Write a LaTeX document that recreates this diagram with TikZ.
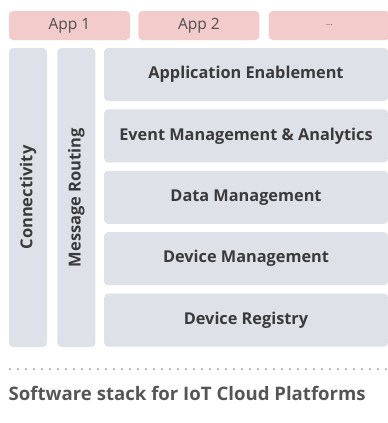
\documentclass[tikz,border=0pt]{standalone}
\usepackage{fontspec}
\setmainfont{Open Sans}
\usepackage{xcolor}
\usetikzlibrary{positioning}
\definecolor{apppink}{HTML}{F3CBCB}
\definecolor{layergray}{HTML}{DFE1E8}
\definecolor{labeltext}{HTML}{3A3A3C}
\definecolor{titletext}{HTML}{555555}
\tikzset{%
	app/.style      = {fill=apppink, rounded corners=4pt, minimum width=121pt, minimum height=29pt, inner sep=0pt, text=labeltext!90, font=\fontsize{15.5}{18}\selectfont},
	layer/.style    = {fill=layergray, rounded corners=4pt, minimum width=284pt, minimum height=53pt, inner sep=0pt, text=labeltext, font=\bfseries\fontsize{16.3}{19}\selectfont},
	column/.style   = {fill=layergray, rounded corners=4pt, minimum width=38pt, minimum height=299pt, inner sep=0pt},
	vlabel/.style   = {rotate=90, inner sep=0pt, text=labeltext, font=\bfseries\fontsize{16.5}{19}\selectfont},
	dotline/.style  = {line width=2pt, line cap=round, dash pattern=on 0pt off 8pt, draw=gray!80},
}

\begin{document}
\begin{tikzpicture}[x=1pt,y=-1pt]
	\useasboundingbox (0,0) rectangle (388,423);
	% applications on top
	\node [app] (app1) at (69.5,25.5) {App 1};
	\node [app] (app2) [right=8pt of app1] {App 2};
	\node [app] (app3) [right=9pt of app2] {\fontsize{8}{9}\selectfont ...};
	% vertical columns
	\node [column] (conn) at (28,197.5) {};
	\node [vlabel] (connlabel) at (conn.center) {Connectivity};
	\node [column] (route) [right=10pt of conn] {};
	\node [vlabel] (routelabel) at (route.center) {Message Routing};
	% layers
	\node [layer] (enable) at (246,74.5) {Application Enablement};
	\node [layer] (event) [below=8pt of enable] {Event Management \& Analytics};
	\node [layer] (data) [below=8pt of event] {Data Management};
	\node [layer] (device) [below=8pt of data] {Device Management};
	\node [layer] (registry) [below=8pt of device] {Device Registry};
	% separator and caption
	\coordinate (dotl) at (10,369);
	\coordinate (dotr) at (388,369);
	\draw [dotline] (dotl) -- (dotr);
	\node [anchor=base west, inner sep=0pt, text=titletext, font=\bfseries\fontsize{18.6}{21}\selectfont] (title) at (8.5,400.5) {Software stack for IoT Cloud Platforms};
\end{tikzpicture}
\end{document}
